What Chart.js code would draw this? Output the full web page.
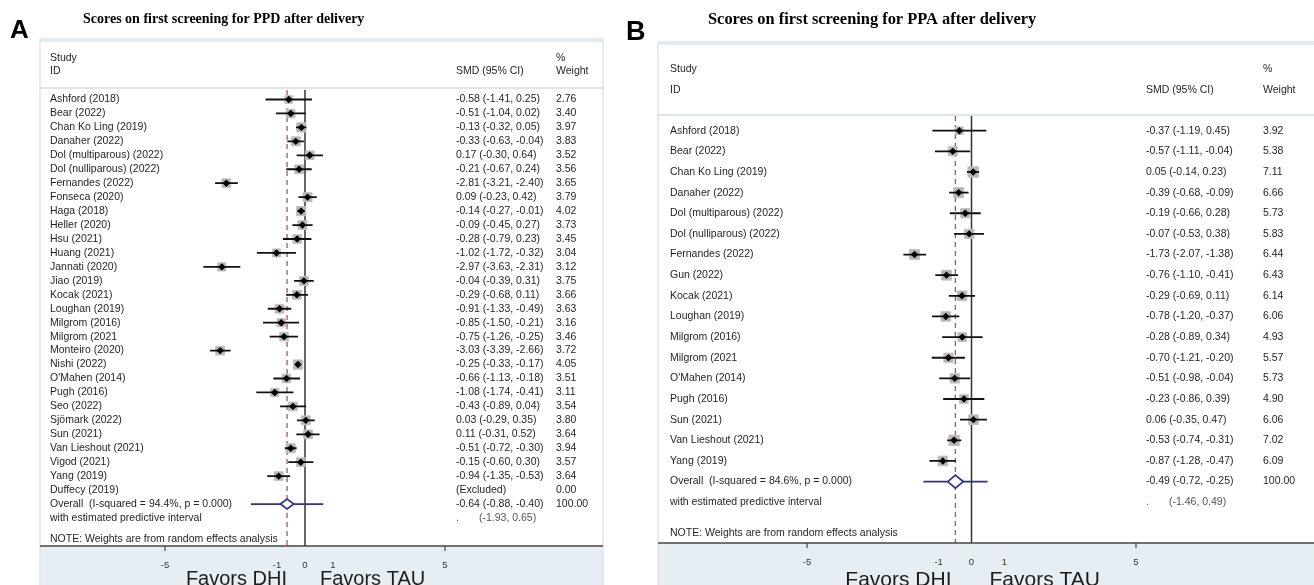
<!DOCTYPE html>
<html>
<head>
<meta charset="utf-8">
<script src="https://cdn.jsdelivr.net/npm/chart.js@4/dist/chart.umd.min.js"></script>
<style>
  html, body { margin: 0; padding: 0; background: #fff; }
  #wrap { position: relative; width: 1314px; height: 585px; overflow: hidden; }
  #ca { position: absolute; left: 0; top: 0; }
  #cb { position: absolute; left: 620px; top: 0; }
</style>
</head>
<body>
<div id="wrap">
  <canvas id="ca" width="620" height="585"></canvas>
  <canvas id="cb" width="694" height="585"></canvas>
</div>
<script>
// ---- Panel A: depression (PPD) ----
const studiesA = ["Ashford (2018)", "Bear (2022)", "Chan Ko Ling (2019)", "Danaher (2022)",
  "Dol (multiparous) (2022)", "Dol (nulliparous) (2022)", "Fernandes (2022)", "Fonseca (2020)",
  "Haga (2018)", "Heller (2020)", "Hsu (2021)", "Huang (2021)", "Jannati (2020)", "Jiao (2019)",
  "Kocak (2021)", "Loughan (2019)", "Milgrom (2016)", "Milgrom (2021", "Monteiro (2020)",
  "Nishi (2022)", "O'Mahen (2014)", "Pugh (2016)", "Seo (2022)", "Sjömark (2022)", "Sun (2021)",
  "Van Lieshout (2021)", "Vigod (2021)", "Yang (2019)", "Duffecy (2019)"];
const smdA = [-0.58, -0.51, -0.13, -0.33, 0.17, -0.21, -2.81, 0.09, -0.14, -0.09, -0.28, -1.02, -2.97,
  -0.04, -0.29, -0.91, -0.85, -0.75, -3.03, -0.25, -0.66, -1.08, -0.43, 0.03, 0.11, -0.51, -0.15, -0.94, null];
const loA = [-1.41, -1.04, -0.32, -0.63, -0.30, -0.67, -3.21, -0.23, -0.27, -0.45, -0.79, -1.72, -3.63,
  -0.39, -0.68, -1.33, -1.50, -1.26, -3.39, -0.33, -1.13, -1.74, -0.89, -0.29, -0.31, -0.72, -0.60, -1.35, null];
const hiA = [0.25, 0.02, 0.05, -0.04, 0.64, 0.24, -2.40, 0.42, -0.01, 0.27, 0.23, -0.32, -2.31,
  0.31, 0.11, -0.49, -0.21, -0.25, -2.66, -0.17, -0.18, -0.41, 0.04, 0.35, 0.52, -0.30, 0.30, -0.53, null];
const weightA = [2.76, 3.40, 3.97, 3.83, 3.52, 3.56, 3.65, 3.79, 4.02, 3.73, 3.45, 3.04, 3.12,
  3.75, 3.66, 3.63, 3.16, 3.46, 3.72, 4.05, 3.51, 3.11, 3.54, 3.80, 3.64, 3.94, 3.57, 3.64, 0.00];
const overallA = [-0.64, -0.88, -0.40];   // estimate, CI low, CI high
const predictiveA = [-1.93, 0.65];
const hetA = "Overall  (I-squared = 94.4%, p = 0.000)";
const titleA = "Scores on first screening for PPD after delivery";

// ---- Panel B: anxiety (PPA) ----
const studiesB = ["Ashford (2018)", "Bear (2022)", "Chan Ko Ling (2019)", "Danaher (2022)",
  "Dol (multiparous) (2022)", "Dol (nulliparous) (2022)", "Fernandes (2022)", "Gun (2022)",
  "Kocak (2021)", "Loughan (2019)", "Milgrom (2016)", "Milgrom (2021", "O'Mahen (2014)",
  "Pugh (2016)", "Sun (2021)", "Van Lieshout (2021)", "Yang (2019)"];
const smdB = [-0.37, -0.57, 0.05, -0.39, -0.19, -0.07, -1.73, -0.76, -0.29, -0.78, -0.28, -0.70,
  -0.51, -0.23, 0.06, -0.53, -0.87];
const loB = [-1.19, -1.11, -0.14, -0.68, -0.66, -0.53, -2.07, -1.10, -0.69, -1.20, -0.89, -1.21,
  -0.98, -0.86, -0.35, -0.74, -1.28];
const hiB = [0.45, -0.04, 0.23, -0.09, 0.28, 0.38, -1.38, -0.41, 0.11, -0.37, 0.34, -0.20,
  -0.04, 0.39, 0.47, -0.31, -0.47];
const weightB = [3.92, 5.38, 7.11, 6.66, 5.73, 5.83, 6.44, 6.43, 6.14, 6.06, 4.93, 5.57,
  5.73, 4.90, 6.06, 7.02, 6.09];
const overallB = [-0.49, -0.72, -0.25];
const predictiveB = [-1.46, 0.49];
const hetB = "Overall  (I-squared = 84.6%, p = 0.000)";
const titleB = "Scores on first screening for PPA after delivery";

// ---- shared axis ----
const tickValues = [-5, -1, 0, 1, 5];
const tickLabels = ["-5", "-1", "0", "1", "5"];
const tickMarkValues = [-5, 5];
const favorLeft = "Favors DHI";
const favorRight = "Favors TAU";

const SANS = '"Liberation Sans", Arial, sans-serif';
const SERIF = '"Liberation Serif", "Times New Roman", serif';
const fmt = v => v.toFixed(2);

function forestChart(canvasId, D, L) {
  const n = D.studies.length;
  const ciPts = [], estPts = [], boxPts = [], boxR = [];
  D.smd.forEach((v, i) => {
    if (v === null) return;
    ciPts.push({x: D.lo[i], y: i}, {x: D.hi[i], y: i}, {x: null, y: null});
    estPts.push({x: v, y: i});
    boxPts.push({x: v, y: i});
    boxR.push(L.boxK * Math.sqrt(D.weight[i]) / Math.SQRT2);
  });

  const decor = {
    id: 'forestDecor_' + canvasId,
    beforeDatasetsDraw(chart) {
      const ctx = chart.ctx, xs = chart.scales.x;
      ctx.save();
      // panel frame and shaded axis band
      ctx.fillStyle = '#e6eef3';
      ctx.fillRect(L.frameL, L.axisY, L.frameR - L.frameL, chart.height - L.axisY);
      ctx.strokeStyle = '#dde6eb';
      ctx.lineWidth = 1.5;
      ctx.strokeRect(L.frameL, L.frameT, L.frameR - L.frameL, chart.height + 20 - L.frameT);
      ctx.fillStyle = '#e1eaf0';
      ctx.fillRect(L.frameL, L.frameT - 2, L.frameR - L.frameL, 4);
      // header rule
      ctx.strokeStyle = '#d6dcdf';
      ctx.lineWidth = 1.5;
      ctx.beginPath(); ctx.moveTo(L.frameL, L.headY); ctx.lineTo(L.frameR, L.headY); ctx.stroke();
      // line of no effect
      const x0 = xs.getPixelForValue(0);
      ctx.strokeStyle = '#333';
      ctx.lineWidth = 1.5;
      ctx.beginPath(); ctx.moveTo(x0, L.vTop); ctx.lineTo(x0, L.axisY); ctx.stroke();
      // pooled estimate reference
      const xe = xs.getPixelForValue(D.overall[0]);
      ctx.strokeStyle = '#b9524c';
      ctx.lineWidth = 1.3;
      ctx.setLineDash([5, 4]);
      ctx.beginPath(); ctx.moveTo(xe, L.vTop); ctx.lineTo(xe, L.axisY); ctx.stroke();
      ctx.setLineDash([]);
      ctx.restore();
    },
    afterDatasetsDraw(chart) {
      const ctx = chart.ctx, xs = chart.scales.x, ys = chart.scales.y;
      ctx.save();
      // pooled diamond
      const yo = ys.getPixelForValue(n);
      ctx.beginPath();
      ctx.moveTo(xs.getPixelForValue(D.overall[1]), yo);
      ctx.lineTo(xs.getPixelForValue(D.overall[0]), yo - L.diaH);
      ctx.lineTo(xs.getPixelForValue(D.overall[2]), yo);
      ctx.lineTo(xs.getPixelForValue(D.overall[0]), yo + L.diaH);
      ctx.closePath();
      ctx.fillStyle = '#ffffff';
      ctx.fill();
      ctx.strokeStyle = '#2e3192';
      ctx.lineWidth = 1.7;
      ctx.stroke();

      // header text
      ctx.fillStyle = '#1f1f1f';
      ctx.font = '10.5px ' + SANS;
      ctx.textBaseline = 'middle';
      ctx.textAlign = 'left';
      ctx.fillText('Study', L.labelX, L.studyY);
      ctx.fillText('ID', L.labelX, L.idY);
      ctx.fillText('SMD (95% CI)', L.ciX, L.idY);
      ctx.fillText('%', L.wX, L.studyY);
      ctx.fillText('Weight', L.wX, L.idY);

      // study rows
      D.studies.forEach((s, i) => {
        const y = ys.getPixelForValue(i);
        ctx.fillText(s, L.labelX, y);
        const ci = D.smd[i] === null ? '(Excluded)'
          : fmt(D.smd[i]) + ' (' + fmt(D.lo[i]) + ', ' + fmt(D.hi[i]) + ')';
        ctx.fillText(ci, L.ciX, y);
        ctx.fillText(fmt(D.weight[i]), L.wX, y);
      });
      // pooled rows
      ctx.fillText(D.het, L.labelX, yo);
      ctx.fillText(fmt(D.overall[0]) + ' (' + fmt(D.overall[1]) + ', ' + fmt(D.overall[2]) + ')', L.ciX, yo);
      ctx.fillText('100.00', L.wX, yo);
      const yp = ys.getPixelForValue(n + 1);
      ctx.fillText('with estimated predictive interval', L.labelX, yp);
      ctx.fillStyle = '#555';
      ctx.fillText('.', L.ciX, yp);
      ctx.fillText('(' + fmt(D.pred[0]) + ', ' + fmt(D.pred[1]) + ')', L.ciX + 23, yp);
      ctx.fillStyle = '#1f1f1f';
      ctx.fillText('NOTE: Weights are from random effects analysis', L.labelX, ys.getPixelForValue(n + 2.5));

      // x axis
      ctx.strokeStyle = '#444';
      ctx.lineWidth = 1.6;
      ctx.beginPath(); ctx.moveTo(L.frameL, L.axisY); ctx.lineTo(L.frameR, L.axisY); ctx.stroke();
      ctx.lineWidth = 1.2;
      tickMarkValues.forEach(t => {
        const x = xs.getPixelForValue(t);
        ctx.beginPath(); ctx.moveTo(x, L.axisY); ctx.lineTo(x, L.axisY + 5); ctx.stroke();
      });
      ctx.font = '9.5px ' + SANS;
      ctx.textAlign = 'center';
      ctx.fillStyle = '#333';
      tickValues.forEach((t, k) => ctx.fillText(tickLabels[k], xs.getPixelForValue(t), L.tickY));

      // direction labels
      const x0 = xs.getPixelForValue(0);
      ctx.font = L.favorSize + 'px ' + SANS;
      ctx.fillStyle = '#1c1c1c';
      ctx.textBaseline = 'alphabetic';
      ctx.textAlign = 'right';
      ctx.fillText(favorLeft, x0 - L.favorGapL, L.favorY);
      ctx.textAlign = 'left';
      ctx.fillText(favorRight, x0 + L.favorGapR, L.favorY);

      // panel letter and title
      ctx.font = 'bold ' + L.letterSize + 'px ' + SANS;
      ctx.fillStyle = '#000';
      ctx.fillText(L.letter, L.letterX, L.letterY);
      ctx.font = 'bold ' + L.titleSize + 'px ' + SERIF;
      ctx.textBaseline = 'middle';
      ctx.fillText(D.title, L.titleX, L.titleY);
      ctx.restore();
    }
  };

  return new Chart(document.getElementById(canvasId), {
    type: 'scatter',
    data: {
      datasets: [
        { // point estimates
          data: estPts, pointStyle: 'rectRot', pointRadius: L.markR,
          backgroundColor: '#000', borderColor: '#000', borderWidth: 0,
          showLine: false, clip: false, order: 0
        },
        { // confidence intervals
          data: ciPts, showLine: true, spanGaps: false, pointRadius: 0,
          borderColor: '#111', borderWidth: L.ciW, clip: false, order: 1
        },
        { // weight boxes
          data: boxPts, pointStyle: 'rect', pointRadius: boxR,
          backgroundColor: '#b5b5b5', borderColor: '#c2c2c2', borderWidth: 1,
          showLine: false, clip: false, order: 2
        },
        { // predictive interval
          data: [{x: D.pred[0], y: n}, {x: D.pred[1], y: n}], showLine: true, pointRadius: 0,
          borderColor: '#2e3192', borderWidth: 1.7, clip: false, order: 3
        }
      ]
    },
    options: {
      responsive: false,
      animation: false,
      events: [],
      layout: { padding: L.pad },
      scales: {
        x: { type: 'linear', min: -5, max: 5, display: false },
        y: { type: 'linear', min: L.yMin, max: L.yMax, reverse: true, display: false }
      },
      plugins: { legend: { display: false }, tooltip: { enabled: false } }
    },
    plugins: [decor]
  });
}

forestChart('ca',
  { studies: studiesA, smd: smdA, lo: loA, hi: hiA, weight: weightA,
    overall: overallA, pred: predictiveA, het: hetA, title: titleA },
  { pad: {left: 165, right: 175, top: 92, bottom: 39}, yMin: -0.538, yMax: 32.007,
    frameL: 40, frameR: 603, frameT: 40, headY: 88, axisY: 546, vTop: 90,
    labelX: 50, ciX: 456, wX: 556, studyY: 58, idY: 71, tickY: 565,
    boxK: 4.6, markR: 3.7, ciW: 1.8, diaH: 5,
    favorSize: 20, favorY: 585, favorGapL: 18, favorGapR: 15,
    letter: 'A', letterSize: 26, letterX: 10, letterY: 38,
    titleSize: 14, titleX: 83, titleY: 19 });

forestChart('cb',
  { studies: studiesB, smd: smdB, lo: loB, hi: hiB, weight: weightB,
    overall: overallB, pred: predictiveB, het: hetB, title: titleB },
  { pad: {left: 187, right: 178, top: 118, bottom: 42}, yMin: -0.615, yMax: 19.976,
    frameL: 38, frameR: 700, frameT: 43, headY: 115, axisY: 543, vTop: 116,
    labelX: 50, ciX: 526, wX: 643, studyY: 69, idY: 90, tickY: 562,
    boxK: 3.9, markR: 3.7, ciW: 1.8, diaH: 6.5,
    favorSize: 21, favorY: 586, favorGapL: 20, favorGapR: 18,
    letter: 'B', letterSize: 27, letterX: 6, letterY: 40,
    titleSize: 16.4, titleX: 88, titleY: 20 });
</script>
</body>
</html>
